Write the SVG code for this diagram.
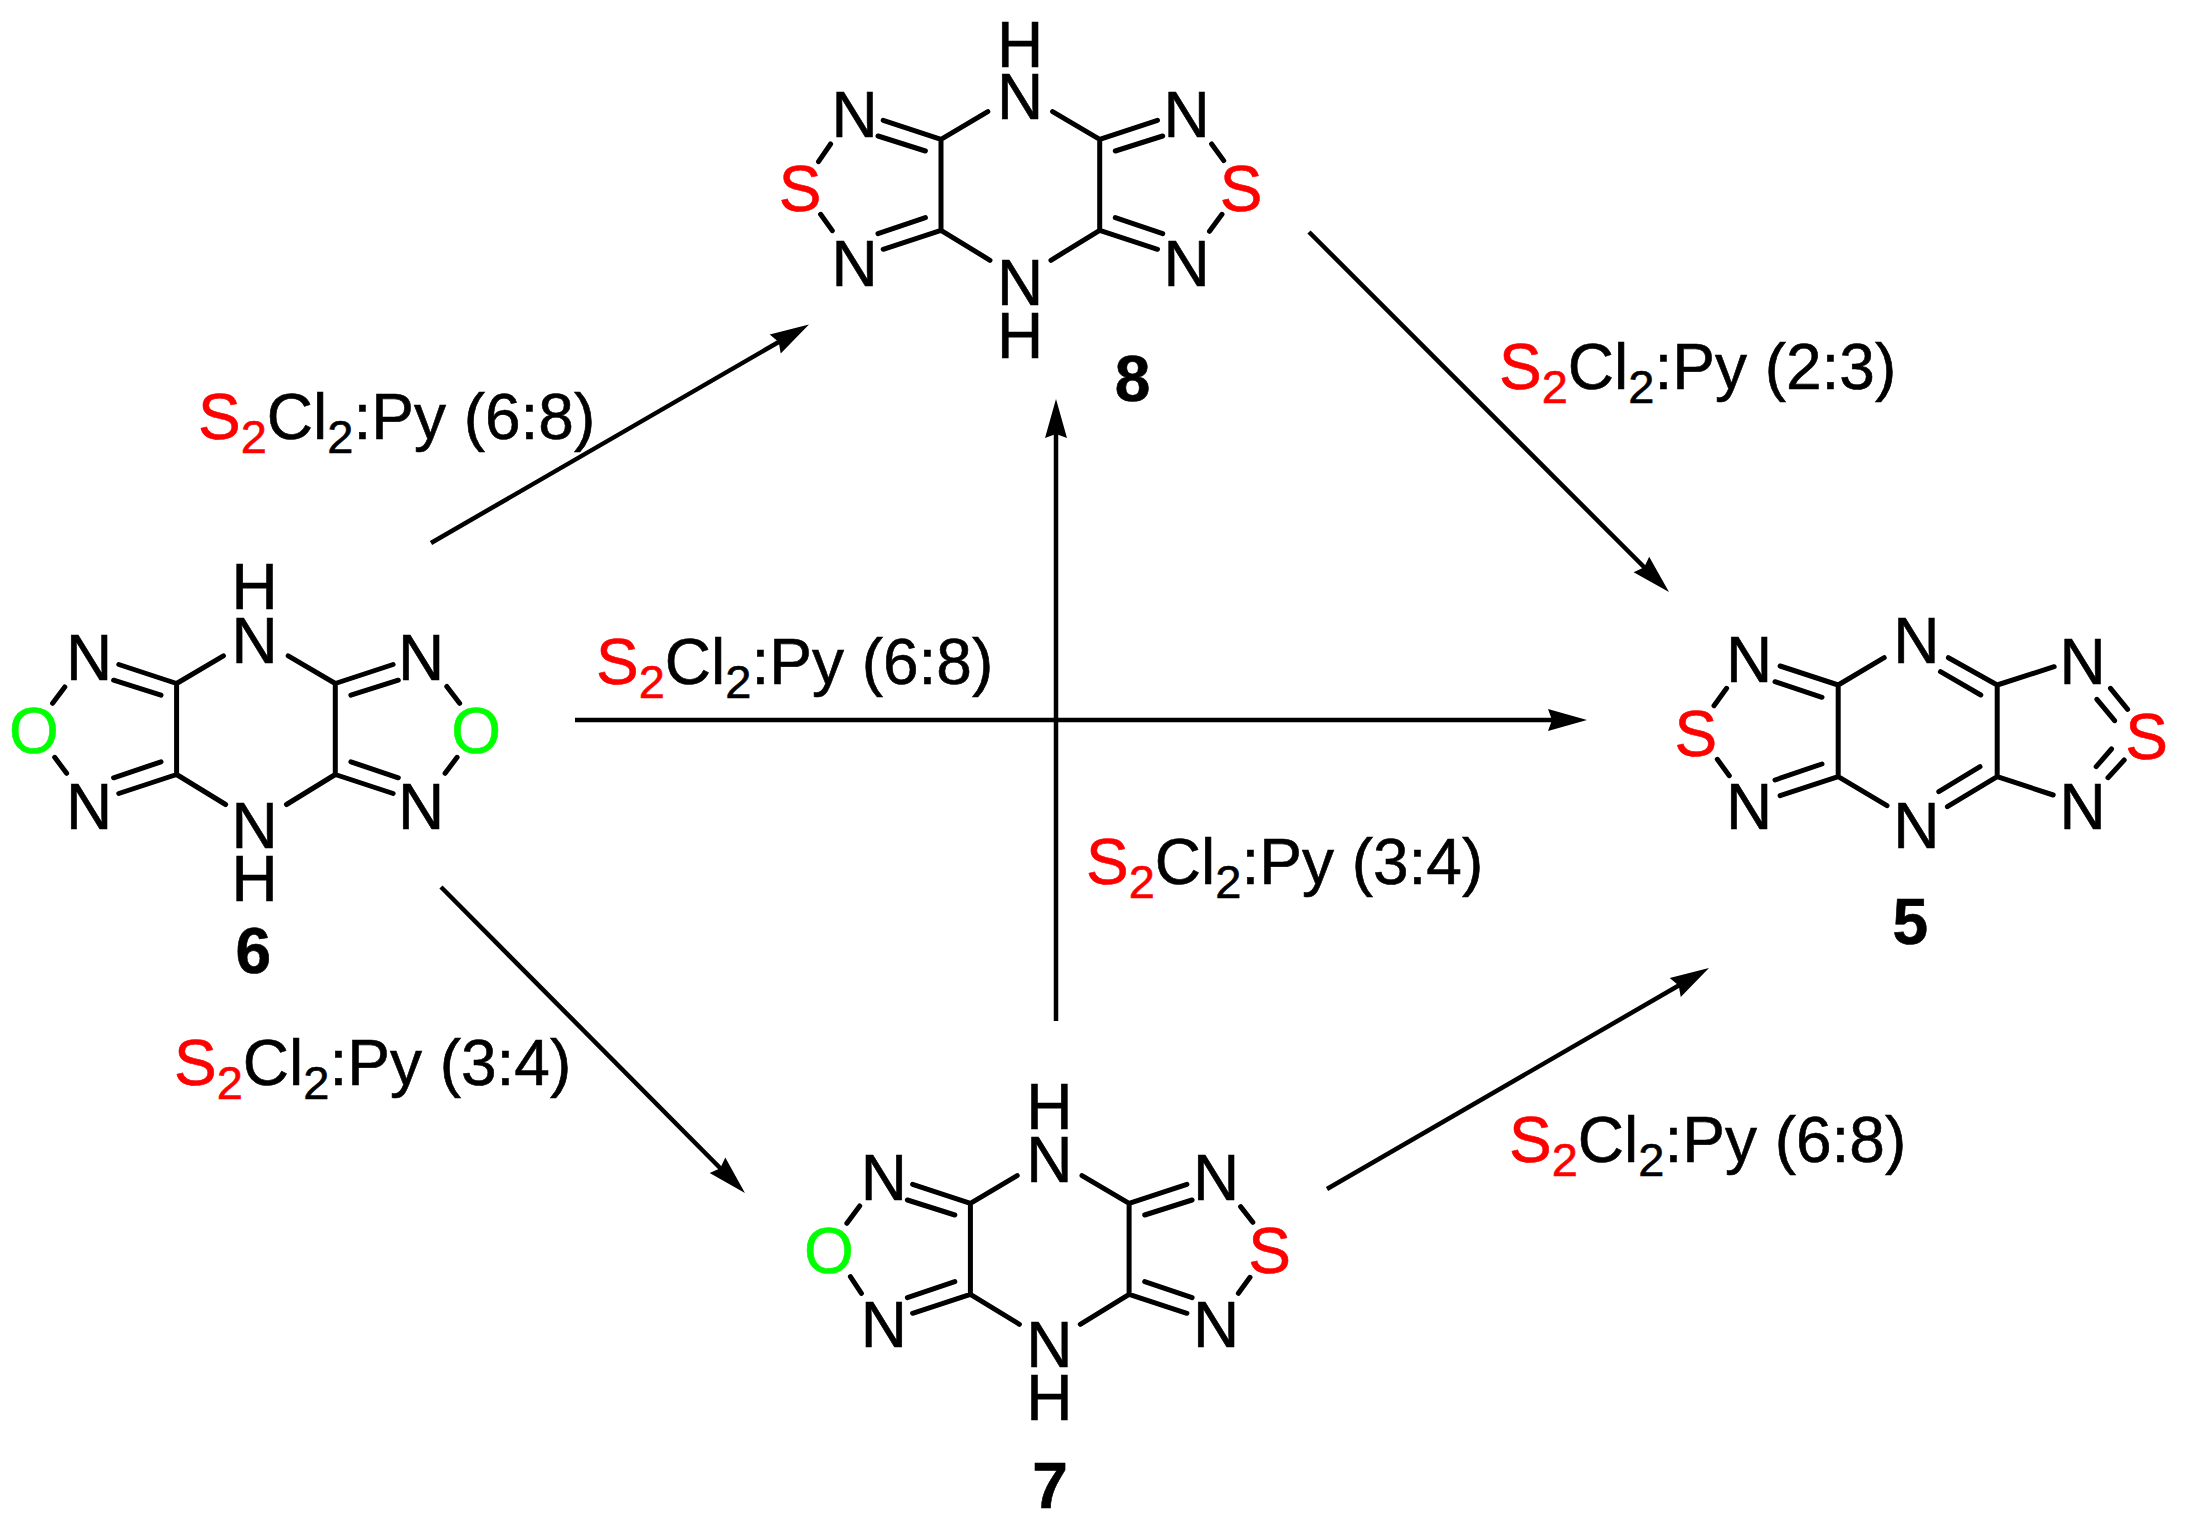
<svg xmlns="http://www.w3.org/2000/svg" width="2193" height="1538" viewBox="0 0 2193 1538">
<style>
text{font-family:"Liberation Sans",Arial,sans-serif;font-size:64px;fill:#000;stroke:#000;stroke-width:.6}
.a{text-anchor:middle}
.b{font-weight:bold}
.s{fill:#f00;stroke:#f00}
.o{fill:#0f0;stroke:#0f0}
.sub{font-size:47px}
.bond{stroke:#000;stroke-width:5;stroke-linecap:round;fill:none}
.arrow{stroke:#000;stroke-width:4.5;fill:none;marker-end:url(#head)}
</style>
<defs>
<marker id="head" markerUnits="userSpaceOnUse" markerWidth="44" markerHeight="28" refX="27" refY="14" orient="auto" overflow="visible">
<path d="M39 14L0 3L4 14L0 25Z" fill="#000"/>
</marker>
<path id="core" class="bond" d="M0 0V91M158.7 0V91M0 0L46.8-27.7M158.7 0L111.6-27.7M0 91L49 121M158.7 91L109.9 121M0 0L-57.8-19M-15.6 11.7L-63-3.3M0 91L-57.8 110M-15.6 78.3L-63 94.3M158.7 0L216.5-19M174.3 11.7L221.7-3.3M158.7 91L216.5 110M174.3 78.3L221.7 94.3"/>
</defs>
<rect width="2193" height="1538" fill="#fff"/>
<g id="connectors">
<line class="arrow" x1="431" y1="543" x2="798.6" y2="330.5"/>
<line class="arrow" x1="575" y1="720" x2="1575" y2="720"/>
<line class="arrow" x1="441" y1="887" x2="736.5" y2="1184.5"/>
<line class="arrow" x1="1056" y1="1021" x2="1056" y2="411"/>
<line class="arrow" x1="1309" y1="232" x2="1660.5" y2="583.5"/>
<line class="arrow" x1="1327" y1="1189" x2="1698.6" y2="974"/>
</g>
<g id="mol6">
<use href="#core" x="176.6" y="683.5"/>
<path class="bond" transform="translate(176.6 683.5)" d="M-111.8 3.5L-124 19.8M-121.9 73.8L-110 89.8M270.2 3L283 19.8M280.5 73.8L268.5 89.8"/>
<text class="a" x="254.6" y="609">H</text>
<text class="a" x="254.6" y="662.7">N</text>
<text class="a" x="89" y="680">N</text>
<text class="a" x="89" y="828.7">N</text>
<text class="a o" x="34" y="753">O</text>
<text class="a" x="421" y="680">N</text>
<text class="a" x="421" y="828.7">N</text>
<text class="a o" x="476.2" y="753">O</text>
<text class="a" x="254.6" y="847.7">N</text>
<text class="a" x="254.6" y="900.7">H</text>
<text class="a b" x="253.4" y="973">6</text>
</g>
<g id="mol8">
<use href="#core" x="941" y="139.3"/>
<path class="bond" transform="translate(941 139.3)" d="M-110.4 4.7L-122.5 22.3M-120.4 75L-108.7 91.3M270.6 4.7L282.7 21.3M281 75L268.5 92"/>
<text class="a" x="1020" y="66.7">H</text>
<text class="a" x="1020" y="119.3">N</text>
<text class="a" x="854.5" y="136.7">N</text>
<text class="a" x="854.5" y="285.7">N</text>
<text class="a s" x="800.2" y="211">S</text>
<text class="a" x="1186.5" y="136.7">N</text>
<text class="a" x="1186.5" y="285.7">N</text>
<text class="a s" x="1241" y="211">S</text>
<text class="a" x="1020" y="305">N</text>
<text class="a" x="1020" y="357.7">H</text>
<text class="a b" x="1132.5" y="400.5">8</text>
</g>
<g id="mol7">
<use href="#core" x="970.4" y="1203.3"/>
<path class="bond" transform="translate(970.4 1203.3)" d="M-110.7 2.7L-123.5 20M-120 73.3L-109 90M270.2 3.3L282.4 19M279.6 74L268 90"/>
<text class="a" x="1049.4" y="1129">H</text>
<text class="a" x="1049.4" y="1181.7">N</text>
<text class="a" x="883.8" y="1200">N</text>
<text class="a" x="883.8" y="1347.3">N</text>
<text class="a o" x="829" y="1273">O</text>
<text class="a" x="1216" y="1200">N</text>
<text class="a" x="1216" y="1347.3">N</text>
<text class="a s" x="1269.5" y="1273">S</text>
<text class="a" x="1049.4" y="1366.7">N</text>
<text class="a" x="1049.4" y="1420">H</text>
<text class="a b" x="1050" y="1507.5">7</text>
</g>
<g id="mol5">
<path class="bond" d="M1838.2 685V776.7M1997.2 685V776.7M1838.2 685L1884.2 657.7M1838.2 776.7L1887 805.7M1997.2 685L1948.4 657.7M1980.8 695L1940.5 671.7M1997.2 776.7L1947.4 806.7M1980 766.7L1938.8 791.7M1997.2 685L2054.2 666.7M1997.2 776.7L2053.2 795M1838.2 685L1780.1 666M1822 697.3L1775 681.7M1838.2 776.7L1780.1 795.7M1822 764L1775 780M1726.6 688.3L1714 705.7M1717.3 759.3L1729.3 775.7M2110.5 688.3L2127.6 709.3M2096.9 699.3L2114.6 720.7M2124.2 760L2108 777.7M2111.5 749L2096.2 766.7"/>
<text class="a" x="1916.3" y="663.3">N</text>
<text class="a" x="1916.3" y="848.3">N</text>
<text class="a" x="1749" y="681.7">N</text>
<text class="a" x="1749" y="829.3">N</text>
<text class="a s" x="1695.8" y="755.5">S</text>
<text class="a" x="2082.5" y="684">N</text>
<text class="a" x="2082.5" y="829.3">N</text>
<text class="a s" x="2146.7" y="758.5">S</text>
<text class="a b" x="1910.3" y="944">5</text>
</g>
<g id="labels">
<text id="cond-6-8-a" x="198" y="439"><tspan class="s">S</tspan><tspan class="s sub" dy="14">2</tspan><tspan dy="-14">Cl</tspan><tspan class="sub" dy="14">2</tspan><tspan dy="-14">:Py (6:8)</tspan></text>
<text id="cond-6-8-b" x="596" y="684"><tspan class="s">S</tspan><tspan class="s sub" dy="14">2</tspan><tspan dy="-14">Cl</tspan><tspan class="sub" dy="14">2</tspan><tspan dy="-14">:Py (6:8)</tspan></text>
<text id="cond-2-3" x="1499" y="389"><tspan class="s">S</tspan><tspan class="s sub" dy="14">2</tspan><tspan dy="-14">Cl</tspan><tspan class="sub" dy="14">2</tspan><tspan dy="-14">:Py (2:3)</tspan></text>
<text id="cond-3-4-a" x="1086" y="884"><tspan class="s">S</tspan><tspan class="s sub" dy="14">2</tspan><tspan dy="-14">Cl</tspan><tspan class="sub" dy="14">2</tspan><tspan dy="-14">:Py (3:4)</tspan></text>
<text id="cond-3-4-b" x="174" y="1085"><tspan class="s">S</tspan><tspan class="s sub" dy="14">2</tspan><tspan dy="-14">Cl</tspan><tspan class="sub" dy="14">2</tspan><tspan dy="-14">:Py (3:4)</tspan></text>
<text id="cond-6-8-c" x="1509" y="1162"><tspan class="s">S</tspan><tspan class="s sub" dy="14">2</tspan><tspan dy="-14">Cl</tspan><tspan class="sub" dy="14">2</tspan><tspan dy="-14">:Py (6:8)</tspan></text>
</g>
</svg>
